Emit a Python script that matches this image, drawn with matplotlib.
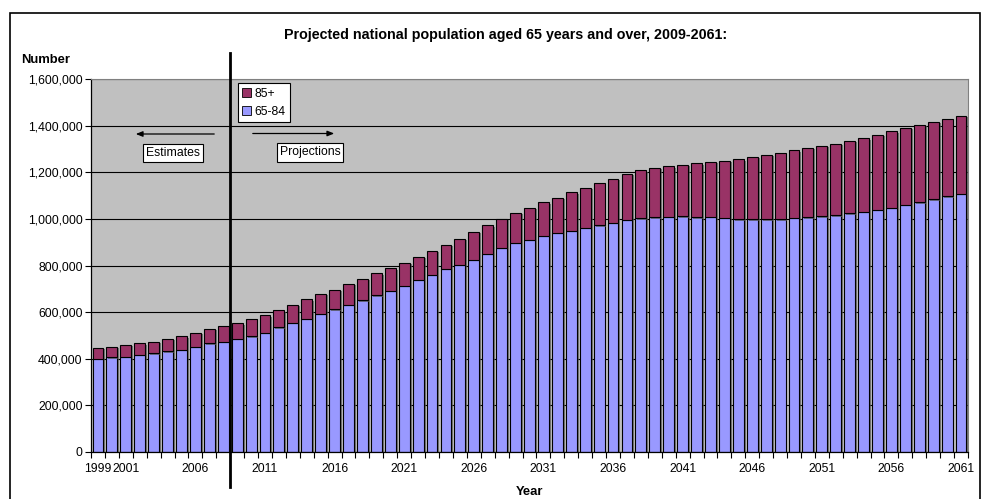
import matplotlib
matplotlib.use("Agg")
import matplotlib.pyplot as plt
import matplotlib.patheffects as pe
from matplotlib.patches import Rectangle, Patch
from matplotlib.ticker import FuncFormatter, MultipleLocator, FixedLocator

plt.rcParams['font.family'] = ['Liberation Sans', 'DejaVu Sans']

years = list(range(1999, 2062))
aged_65_84 = [400, 406, 409, 417, 424, 433, 439, 452, 467, 474,
              485, 496, 512, 535, 555, 573, 594, 612, 632, 651,
              672, 692, 714, 738, 761, 786, 803, 826, 850, 876,
              898, 912, 928, 941, 950, 962, 973, 985, 997, 1003,
              1007, 1011, 1012, 1008, 1009, 1005, 999, 999, 999, 999,
              1005, 1008, 1012, 1016, 1024, 1031, 1040, 1049, 1061, 1072,
              1085, 1097, 1108]
aged_85_plus = [48, 45, 50, 50, 50, 53, 58, 61, 61, 65,
                67, 75, 74, 74, 77, 82, 84, 85, 89, 92,
                95, 96, 97, 101, 102, 103, 113, 120, 123, 125,
                129, 137, 144, 150, 165, 172, 183, 188, 196, 206,
                212, 216, 222, 231, 237, 245, 258, 267, 278, 286,
                291, 297, 303, 307, 311, 315, 322, 327, 330, 333,
                333, 334, 336]
aged_65_84 = [v * 1000 for v in aged_65_84]
aged_85_plus = [v * 1000 for v in aged_85_plus]
tick_labels = ['1999', '2001', '2006', '2011', '2016', '2021', '2026', '2031',
               '2036', '2041', '2046', '2051', '2056', '2061']

title = 'Projected national population aged 65 years and over, 2009-2061:'
c_young = '#9999FF'
c_old = '#993366'

W, H = 981, 499
fig = plt.figure(figsize=(W / 100, H / 100), dpi=100)

def fx(px):
    return px / W

def fy(py):
    return 1 - py / H

# outer chart border
fig.patches.append(Rectangle((fx(10), -0.05), fx(980) - fx(10), fy(13) + 0.05,
                             transform=fig.transFigure, fill=False,
                             ec='black', lw=1.2))

left, right, top, bottom = 91, 968, 79.3, 452
ax = fig.add_axes([fx(left), fy(bottom), fx(right) - fx(left), (bottom - top) / H])
ax.set_facecolor('#C0C0C0')

x = list(range(len(years)))
shadow = [pe.SimplePatchShadow(offset=(1.4, -1.0), shadow_rgbFace='#555555', alpha=0.7), pe.Normal()]
b1 = ax.bar(x, aged_65_84, width=0.78, color=c_young, edgecolor='black', linewidth=0.8)
b2 = ax.bar(x, aged_85_plus, bottom=aged_65_84, width=0.78, color=c_old,
            edgecolor='black', linewidth=0.8)
for b in list(b1) + list(b2):
    b.set_path_effects(shadow)

ax.set_xlim(-0.5, len(years) - 0.5)
ax.set_ylim(0, 1600000)
ax.yaxis.set_major_locator(MultipleLocator(200000))
ax.yaxis.set_major_formatter(FuncFormatter(lambda v, p: f'{v:,.0f}'))
ax.grid(axis='y', color='black', lw=0.8)
ax.set_axisbelow(True)

label_pos = [years.index(int(t)) for t in tick_labels]
ax.xaxis.set_major_locator(FixedLocator(label_pos))
ax.set_xticklabels(tick_labels)
ax.xaxis.set_minor_locator(FixedLocator([i - 0.5 for i in range(len(years) + 1)]))
ax.tick_params(axis='x', which='major', length=0, pad=8, labelsize=8.8)
ax.tick_params(axis='x', which='minor', length=4, width=0.8, direction='out')
ax.tick_params(axis='y', length=4, width=0.8, direction='out', labelsize=8.8, pad=2)

for s in ['top', 'right']:
    ax.spines[s].set_color('#808080')
for s in ['left', 'bottom']:
    ax.spines[s].set_color('black')
    ax.spines[s].set_linewidth(0.9)

# divider between estimates and projections
ax.axvline(9.5, ymin=(bottom - 487) / (bottom - top), ymax=(bottom - 53) / (bottom - top),
           color='black', lw=2, clip_on=False, zorder=5)

# legend
handles = [Patch(facecolor=c_old, edgecolor='black', lw=0.6, label='85+'),
           Patch(facecolor=c_young, edgecolor='black', lw=0.6, label='65-84')]
leg = fig.legend(handles=handles, loc='upper left', bbox_to_anchor=(fx(238), fy(83.3)),
                 bbox_transform=fig.transFigure, fontsize=8.8, frameon=True,
                 fancybox=False, edgecolor='black', framealpha=1, borderpad=0.35,
                 handlelength=0.7, handleheight=0.7, handletextpad=0.3,
                 labelspacing=0.5, borderaxespad=0)
leg.get_frame().set_linewidth(0.8)

# arrows and labels
fig.add_artist(matplotlib.patches.FancyArrowPatch(
    (fx(217), fy(134)), (fx(133), fy(134)), transform=fig.transFigure,
    arrowstyle='-|>,head_length=4,head_width=1.6', color='black', lw=0.9))
fig.add_artist(matplotlib.patches.FancyArrowPatch(
    (fx(250), fy(133.5)), (fx(337), fy(133.5)), transform=fig.transFigure,
    arrowstyle='-|>,head_length=4,head_width=1.6', color='black', lw=0.9))
box = dict(boxstyle='square,pad=0.25', fc='white', ec='black', lw=0.8)
fig.text(fx(173), fy(153), 'Estimates', ha='center', va='center', fontsize=8.8, bbox=box)
fig.text(fx(310), fy(152.5), 'Projections', ha='center', va='center', fontsize=8.8, bbox=box)

fig.text(fx(506), fy(35), title, ha='center', va='center', fontsize=10.3, fontweight='bold')
fig.text(fx(21), fy(60), 'Number', ha='left', va='center', fontsize=9.4, fontweight='bold')
fig.text(fx(529.5), fy(492), 'Year', ha='center', va='center', fontsize=9.4, fontweight='bold')

fig.savefig('out.png', dpi=100)
